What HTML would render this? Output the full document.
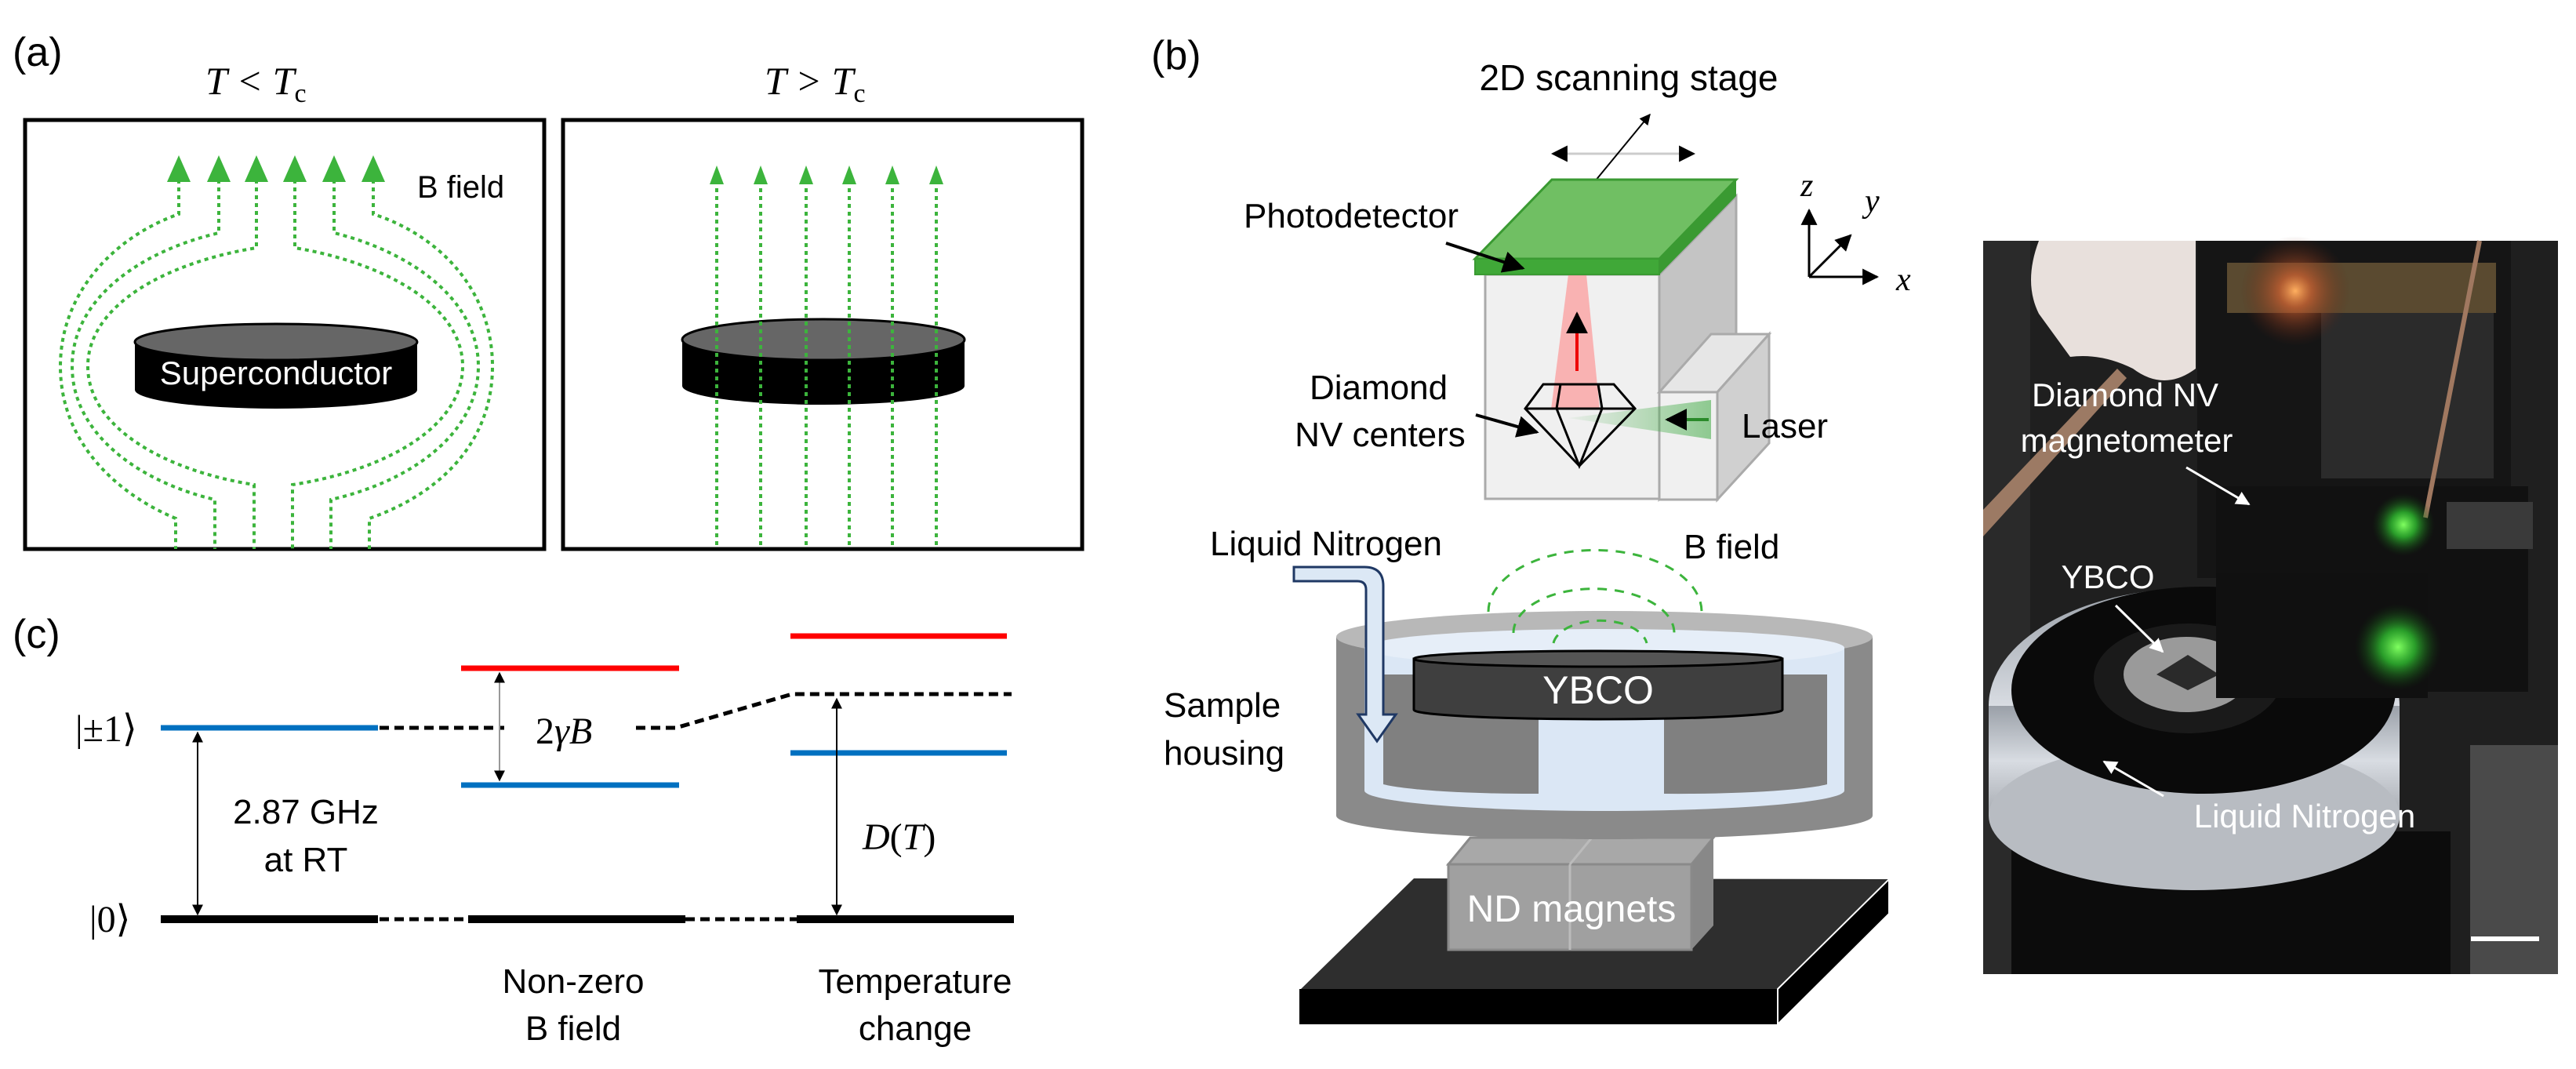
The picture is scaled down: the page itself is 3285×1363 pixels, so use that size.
<!DOCTYPE html>
<html><head><meta charset="utf-8"><style>
html,body{margin:0;padding:0;background:#fff;}
svg{display:block;}
text{font-family:"Liberation Sans",Arial,sans-serif;}
.s{font-family:"Liberation Serif","DejaVu Serif",serif;font-style:italic;}
.k{font-family:"Liberation Serif","DejaVu Serif",serif;font-style:normal;}
.n{font-style:normal;}
</style></head><body>
<svg width="3285" height="1363" viewBox="0 0 3285 1363" xmlns="http://www.w3.org/2000/svg">
<defs>
<marker id="ah" viewBox="0 0 10 10" refX="9" refY="5" markerWidth="7" markerHeight="7" orient="auto-start-reverse"><path d="M0,0 L10,5 L0,10 z" fill="#000"/></marker>
<marker id="ahw" viewBox="0 0 10 10" refX="9" refY="5" markerWidth="6" markerHeight="6" orient="auto-start-reverse"><path d="M0,0 L10,5 L0,10 z" fill="#fff"/></marker>
<radialGradient id="glowO"><stop offset="0" stop-color="#ffb060"/><stop offset="0.3" stop-color="#d06030" stop-opacity="0.7"/><stop offset="1" stop-color="#602010" stop-opacity="0"/></radialGradient>
<radialGradient id="glowG"><stop offset="0" stop-color="#80ff60"/><stop offset="0.4" stop-color="#30c030" stop-opacity="0.8"/><stop offset="1" stop-color="#104010" stop-opacity="0"/></radialGradient>
<linearGradient id="bowl" x1="0" y1="0" x2="0" y2="1"><stop offset="0" stop-color="#9aa0a8"/><stop offset="0.5" stop-color="#d8dce2"/><stop offset="1" stop-color="#a8acb2"/></linearGradient>
<linearGradient id="gbeam" x1="1" y1="0" x2="0" y2="0"><stop offset="0" stop-color="#4caf50" stop-opacity="0.6"/><stop offset="1" stop-color="#4caf50" stop-opacity="0.05"/></linearGradient>
</defs>

<!-- (a) -->
<text x="16" y="84" font-size="52">(a)</text>
<text class="s" x="262" y="120" font-size="50">T  &lt;  T<tspan class="n" font-size="34" dy="10">c</tspan></text>
<text class="s" x="975" y="120" font-size="50">T  &gt;  T<tspan class="n" font-size="34" dy="10">c</tspan></text>
<rect x="32" y="153" width="662" height="547" fill="none" stroke="#000" stroke-width="5"/>
<rect x="718" y="153" width="662" height="547" fill="none" stroke="#000" stroke-width="5"/>

<g fill="none" stroke="#3cb43c" stroke-width="4" stroke-dasharray="5 5">
<path d="M228,229 V273 C150,300 77,370 77,467 C77,565 150,630 224,661 V700"/>
<path d="M279,229 V297 C180,320 92,380 92,467 C92,555 180,615 274,637 V700"/>
<path d="M327,229 V316 C210,335 112,390 112,467 C112,545 210,600 324,618 V700"/>
<path d="M376,229 V316 C490,335 590,390 590,467 C590,545 490,600 373,618 V700"/>
<path d="M426,229 V297 C520,320 610,380 610,467 C610,555 520,615 422,637 V700"/>
<path d="M476,229 V273 C560,300 628,370 628,467 C628,565 560,630 471,661 V700"/>
</g>
<g fill="#3cb43c">
<polygon points="228,198 213,232 243,232"/><polygon points="279,198 264,232 294,232"/>
<polygon points="327,198 312,232 342,232"/><polygon points="376,198 361,232 391,232"/>
<polygon points="426,198 411,232 441,232"/><polygon points="476,198 461,232 491,232"/>
</g>
<text x="532" y="252" font-size="40">B field</text>
<path d="M172,436 V497 A180,24 0 0 0 532,497 V436 z" fill="#000"/>
<ellipse cx="352" cy="436" rx="180" ry="23" fill="#666" stroke="#000" stroke-width="3"/>
<text x="352" y="490" font-size="42" fill="#fff" text-anchor="middle">Superconductor</text>

<path d="M870,433 V492 A180,24 0 0 0 1230,492 V433 z" fill="#000"/>
<ellipse cx="1050" cy="433" rx="180" ry="26" fill="#666" stroke="#000" stroke-width="3"/>
<g fill="none" stroke="#3cb43c" stroke-width="4" stroke-dasharray="5 5">
<path d="M914,230 V700 M970,230 V700 M1028,230 V700 M1083,230 V700 M1138,230 V700 M1194,230 V700"/>
</g>
<g fill="#3cb43c">
<polygon points="914,211 905,235 923,235"/><polygon points="970,211 961,235 979,235"/>
<polygon points="1028,211 1019,235 1037,235"/><polygon points="1083,211 1074,235 1092,235"/>
<polygon points="1138,211 1129,235 1147,235"/><polygon points="1194,211 1185,235 1203,235"/>
</g>

<!-- (c) -->
<text x="16" y="826" font-size="52">(c)</text>
<text class="k" x="96" y="945" font-size="48">|±1⟩</text>
<text class="k" x="114" y="1188" font-size="48">|0⟩</text>
<g stroke-width="7">
<line x1="205" y1="928" x2="482" y2="928" stroke="#0070c0"/>
<line x1="588" y1="852" x2="866" y2="852" stroke="#f00"/>
<line x1="588" y1="1001" x2="866" y2="1001" stroke="#0070c0"/>
<line x1="1008" y1="811" x2="1284" y2="811" stroke="#f00"/>
<line x1="1008" y1="960" x2="1284" y2="960" stroke="#0070c0"/>
</g>
<g stroke="#000" stroke-width="10">
<line x1="205" y1="1172" x2="482" y2="1172"/>
<line x1="597" y1="1172" x2="874" y2="1172"/>
<line x1="1016" y1="1172" x2="1293" y2="1172"/>
</g>
<g stroke="#000" stroke-width="5" stroke-dasharray="12 7" fill="none">
<line x1="484" y1="928" x2="643" y2="928"/>
<path d="M811,928 H862 L1010,885 H1290"/>
<line x1="484" y1="1172" x2="597" y2="1172"/>
<line x1="874" y1="1172" x2="1016" y2="1172"/>
</g>
<line x1="637" y1="858" x2="637" y2="995" stroke="#999" stroke-width="2" marker-start="url(#ah)" marker-end="url(#ah)"/>
<line x1="252" y1="934" x2="252" y2="1166" stroke="#000" stroke-width="2" marker-start="url(#ah)" marker-end="url(#ah)"/>
<line x1="1067" y1="891" x2="1067" y2="1166" stroke="#000" stroke-width="2" marker-start="url(#ah)" marker-end="url(#ah)"/>
<text class="s" x="683" y="948" font-size="48"><tspan class="n">2</tspan>γB</text>
<text x="390" y="1050" font-size="44" text-anchor="middle">2.87 GHz</text>
<text x="390" y="1111" font-size="44" text-anchor="middle">at RT</text>
<text class="s" x="1100" y="1083" font-size="48">D<tspan class="n">(</tspan>T<tspan class="n">)</tspan></text>
<text x="731" y="1266" font-size="44" text-anchor="middle">Non-zero</text>
<text x="731" y="1326" font-size="44" text-anchor="middle">B field</text>
<text x="1167" y="1266" font-size="44" text-anchor="middle">Temperature</text>
<text x="1167" y="1326" font-size="44" text-anchor="middle">change</text>

<!-- (b) top -->
<text x="1468" y="88" font-size="52">(b)</text>
<text x="2077" y="115" font-size="46" text-anchor="middle">2D scanning stage</text>
<line x1="1980" y1="196" x2="2160" y2="196" stroke="#ccc" stroke-width="3" marker-start="url(#ah)" marker-end="url(#ah)"/>
<line x1="2104" y1="146" x2="2020" y2="248" stroke="#000" stroke-width="2" marker-start="url(#ah)" marker-end="url(#ah)"/>
<polygon points="2116,350 2214,250 2214,520 2116,636" fill="#c4c4c4" stroke="#aaa" stroke-width="3"/>
<rect x="1894" y="350" width="222" height="286" fill="#f0f0f0" stroke="#aaa" stroke-width="3"/>
<polygon points="2116,500 2182,426 2256,426 2190,500" fill="#e6e6e6" stroke="#aaa" stroke-width="3"/>
<polygon points="2190,500 2256,426 2256,565 2190,637" fill="#d0d0d0" stroke="#aaa" stroke-width="3"/>
<rect x="2116" y="500" width="74" height="137" fill="#f0f0f0" stroke="#aaa" stroke-width="3"/>
<polygon points="2000,350 2023,350 2040,522 1978,522" fill="#f88" fill-opacity="0.6"/>
<polygon points="2182,510 2182,560 2000,533" fill="url(#gbeam)"/>
<line x1="2011" y1="473" x2="2011" y2="400" stroke="#e00" stroke-width="4" marker-end="url(#ah)"/>
<line x1="2179" y1="535" x2="2126" y2="535" stroke="#2a8a2a" stroke-width="4" marker-end="url(#ah)"/>
<g fill="none" stroke="#000" stroke-width="3">
<polygon points="1968,490 2058,490 2085,521 2014,594 1945,521"/>
<line x1="1945" y1="521" x2="2085" y2="521"/>
<path d="M1990,490 L1985,521 L2014,594 L2043,521 L2038,490"/>
</g>
<polygon points="1979,229 2214,229 2116,330 1881,330" fill="#70bf63" stroke="#3a9a32" stroke-width="3"/>
<polygon points="2116,330 2214,229 2214,250 2116,350" fill="#3a9a32"/>
<rect x="1881" y="330" width="235" height="20" fill="#40a838" stroke="#3a9a32" stroke-width="2"/>
<text x="1723" y="290" font-size="44" text-anchor="middle">Photodetector</text>
<line x1="1844" y1="310" x2="1942" y2="342" stroke="#000" stroke-width="4" marker-end="url(#ah)"/>
<text x="1758" y="509" font-size="44" text-anchor="middle">Diamond</text>
<text x="1760" y="569" font-size="44" text-anchor="middle">NV centers</text>
<line x1="1882" y1="529" x2="1960" y2="551" stroke="#000" stroke-width="4" marker-end="url(#ah)"/>
<text x="2221" y="558" font-size="44">Laser</text>
<g stroke="#000" stroke-width="3">
<line x1="2307" y1="353" x2="2307" y2="268" marker-end="url(#ah)"/>
<line x1="2307" y1="353" x2="2394" y2="353" marker-end="url(#ah)"/>
<line x1="2307" y1="353" x2="2360" y2="300" marker-end="url(#ah)"/>
</g>
<text class="s" x="2296" y="250" font-size="42">z</text>
<text class="s" x="2378" y="270" font-size="42">y</text>
<text class="s" x="2418" y="370" font-size="42">x</text>

<!-- (b) bottom -->
<text x="1691" y="708" font-size="44" text-anchor="middle">Liquid Nitrogen</text>
<text x="2147" y="712" font-size="44">B field</text>
<polygon points="1803,1120 2409,1121 2267,1261 1659,1261" fill="#2e2e2e"/>
<rect x="1657" y="1261" width="610" height="45" fill="#000"/>
<polygon points="2267,1261 2409,1121 2409,1165 2267,1306" fill="#000" stroke="#fff" stroke-width="2"/>
<polygon points="1847,1102 1875,1068 2185,1068 2157,1102" fill="#a8a8a8" stroke="#8a8a8a" stroke-width="3"/>
<polygon points="2157,1102 2185,1068 2185,1180 2157,1211" fill="#888"/>
<rect x="1847" y="1102" width="310" height="109" fill="#a0a0a0" stroke="#8a8a8a" stroke-width="3"/>
<line x1="2002" y1="1102" x2="2002" y2="1211" stroke="#bbb" stroke-width="3"/>
<line x1="2002" y1="1102" x2="2030" y2="1068" stroke="#bbb" stroke-width="3"/>
<text x="2004" y="1175" font-size="48" fill="#fff" text-anchor="middle">ND magnets</text>
<path d="M1704,812 V1040 A342,30 0 0 0 2388,1040 V812 z" fill="#8a8a8a"/>
<ellipse cx="2046" cy="812" rx="342" ry="33" fill="#b8b8b8"/>
<path d="M1740,826 V1008 A306,26 0 0 0 2352,1008 V826 z" fill="#dbe7f5"/>
<ellipse cx="2046" cy="826" rx="306" ry="24" fill="#e6eef8"/>
<path d="M1764,860 V1000 A200,18 0 0 0 1962,1012 V860 z" fill="#808080"/>
<path d="M2122,860 V1012 A200,18 0 0 0 2330,1000 V860 z" fill="#808080"/>
<g fill="none" stroke="#3cb43c" stroke-width="3" stroke-dasharray="12 10">
<path d="M1898,780 A135,78 0 0 1 2170,780"/>
<path d="M1930,807 A102,56 0 0 1 2135,807"/>
<path d="M1981,820 A60,33 0 0 1 2100,820"/>
</g>
<path d="M1803,840 V905 A235,12 0 0 0 2273,905 V840 z" fill="#3f3f3f" stroke="#000" stroke-width="3"/>
<ellipse cx="2038" cy="840" rx="235" ry="10" fill="#555" stroke="#000" stroke-width="3"/>
<text x="2038" y="897" font-size="50" fill="#fff" text-anchor="middle">YBCO</text>
<path d="M1650,723 H1740 Q1764,723 1764,747 V911 H1780 L1756,945 L1732,911 H1742 V752 Q1742,741 1731,741 H1650 z" fill="#dce8f5" stroke="#1f3864" stroke-width="3"/>
<text x="1484" y="914" font-size="44">Sample</text>
<text x="1484" y="975" font-size="44">housing</text>

<!-- photo -->
<g>
<rect x="2529" y="307" width="733" height="935" fill="#1f1f1f"/>
<rect x="2529" y="307" width="60" height="935" fill="#2a2a2a"/>
<rect x="3150" y="950" width="112" height="292" fill="#4a4a4a"/>
<polygon points="2529,650 2700,470 2712,482 2529,684" fill="#9c7a64"/>
<path d="M2600,307 H2800 V470 Q2760,500 2720,470 Q2680,450 2640,455 L2600,400 Q2580,360 2600,307 z" fill="#e8e0dc"/>
<rect x="2802" y="307" width="400" height="430" fill="#151515"/>
<rect x="2960" y="380" width="220" height="230" fill="#2b2b2b"/>
<polygon points="2840,335 3183,335 3183,399 2840,399" fill="#5a4a30"/>
<circle cx="2927" cy="371" r="70" fill="url(#glowO)"/>
<rect x="2826" y="620" width="398" height="262" fill="#111"/>
<rect x="3120" y="640" width="110" height="60" fill="#3a3a3a"/>
<line x1="3162" y1="307" x2="3093" y2="660" stroke="#a07860" stroke-width="6"/>
<rect x="2565" y="1060" width="560" height="182" fill="#0c0c0c"/>
<ellipse cx="2798" cy="900" rx="262" ry="150" fill="url(#bowl)"/>
<rect x="2536" y="900" width="524" height="140" fill="url(#bowl)"/>
<ellipse cx="2798" cy="1040" rx="262" ry="95" fill="#b8bcc2"/>
<ellipse cx="2810" cy="880" rx="245" ry="132" fill="#0a0a0a"/>
<ellipse cx="2790" cy="865" rx="120" ry="70" fill="#1a1a1a"/>
<ellipse cx="2788" cy="860" rx="80" ry="48" fill="#9a9a9a"/>
<polygon points="2750,860 2790,835 2830,860 2790,880" fill="#2a2a2a"/>
<rect x="2826" y="730" width="270" height="160" fill="#101010"/>
<circle cx="3065" cy="669" r="40" fill="url(#glowG)"/>
<circle cx="3058" cy="825" r="55" fill="url(#glowG)"/>
<line x1="3151" y1="1197" x2="3238" y2="1197" stroke="#fff" stroke-width="6"/>
<text x="2710" y="518" font-size="42" fill="#fff" text-anchor="middle">Diamond NV</text>
<text x="2712" y="576" font-size="42" fill="#fff" text-anchor="middle">magnetometer</text>
<line x1="2788" y1="596" x2="2868" y2="643" stroke="#fff" stroke-width="3" marker-end="url(#ahw)"/>
<text x="2688" y="750" font-size="42" fill="#fff" text-anchor="middle">YBCO</text>
<line x1="2698" y1="772" x2="2758" y2="831" stroke="#fff" stroke-width="3" marker-end="url(#ahw)"/>
<line x1="2759" y1="1015" x2="2683" y2="971" stroke="#fff" stroke-width="3" marker-end="url(#ahw)"/>
<text x="2939" y="1055" font-size="42" fill="#fff" text-anchor="middle">Liquid Nitrogen</text>
</g>
</svg>
</body></html>
